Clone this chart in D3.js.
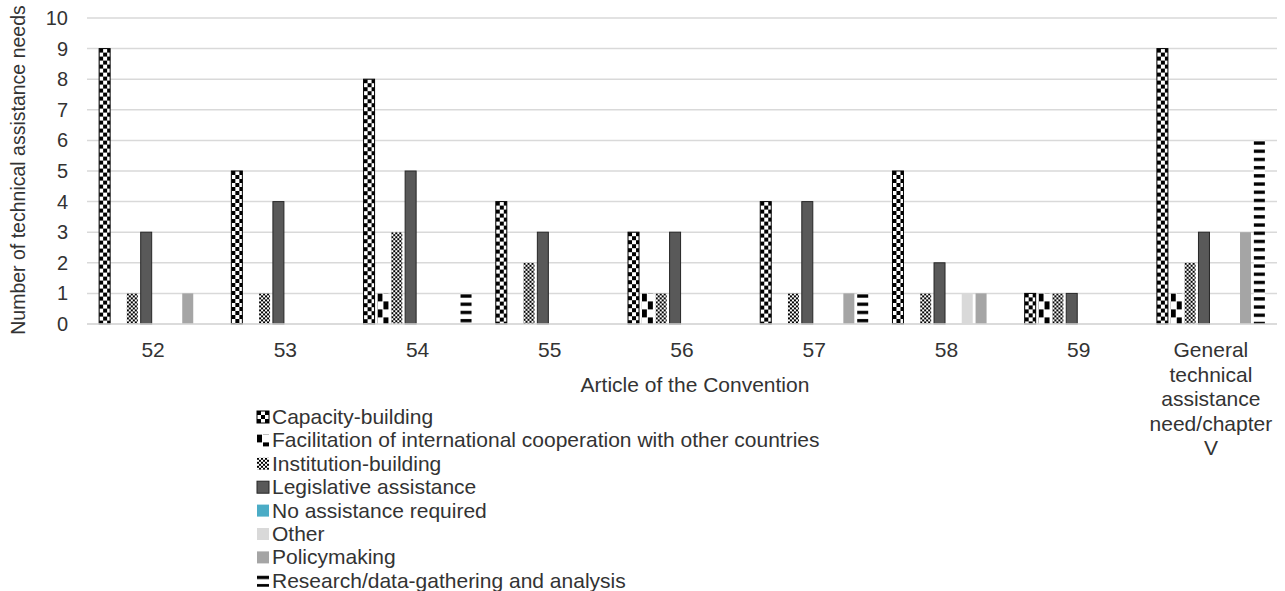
<!DOCTYPE html>
<html>
<head>
<meta charset="utf-8">
<script src="https://cdn.jsdelivr.net/npm/d3@7"></script>
<style>
  html, body { margin: 0; padding: 0; background: #fff; }
  svg { display: block; font-family: "Liberation Sans", Arial, sans-serif; }
</style>
</head>
<body>
<svg id="chart" width="1285" height="591"></svg>
<script>
// Articles of the Convention (chapter V) and the kinds of technical assistance requested
const categories = ["52", "53", "54", "55", "56", "57", "58", "59", "General technical assistance need/chapter V"];
const categoryLines = [["52"], ["53"], ["54"], ["55"], ["56"], ["57"], ["58"], ["59"],
  ["General", "technical", "assistance", "need/chapter", "V"]];

const seriesNames = [
  "Capacity-building",
  "Facilitation of international cooperation with other countries",
  "Institution-building",
  "Legislative assistance",
  "No assistance required",
  "Other",
  "Policymaking",
  "Research/data-gathering and analysis"
];

// counts per article, one array per series (same order as categories)
const capacityBuilding    = [9, 5, 8, 4, 3, 4, 5, 1, 9];
const facilitation        = [0, 0, 1, 0, 1, 0, 0, 1, 1];
const institutionBuilding = [1, 1, 3, 2, 1, 1, 1, 1, 2];
const legislative         = [3, 4, 5, 3, 3, 4, 2, 1, 3];
const noAssistance        = [0, 0, 0, 0, 0, 0, 0, 0, 0];
const other               = [0, 0, 0, 0, 0, 0, 1, 0, 0];
const policymaking        = [1, 0, 0, 0, 0, 1, 1, 0, 3];
const research            = [0, 0, 1, 0, 0, 1, 0, 0, 6];

const yTicks = [0, 1, 2, 3, 4, 5, 6, 7, 8, 9, 10];

const seriesValues = [capacityBuilding, facilitation, institutionBuilding, legislative,
  noAssistance, other, policymaking, research];

const svg = d3.select("#chart");
const textColor = "#333333";
const defs = svg.append("defs");

// ---- fill patterns (each anchored at the top-left corner of the shape using it) ----
const patternKinds = {
  check: { w: 8, h: 8, rects: [[0, 0, 4, 4], [4, 4, 4, 4]] },
  conf:  { w: 12, h: 16, rects: [[0, 0, 5, 8], [6, 8, 6, 8]] },
  small: { w: 4, h: 4, rects: [[0, 0, 2, 2], [2, 2, 2, 2]] },
  dash:  { w: 12, h: 8.2, rects: [[0, 1, 12, 3.3]] }
};
let patternCount = 0;
function makePattern(kind, x, y) {
  const k = patternKinds[kind];
  const id = "pat-" + kind + "-" + (patternCount++);
  const p = defs.append("pattern").attr("id", id)
    .attr("patternUnits", "userSpaceOnUse")
    .attr("x", x).attr("y", y).attr("width", k.w).attr("height", k.h);
  p.append("rect").attr("width", k.w).attr("height", k.h).attr("fill", "#fff");
  k.rects.forEach(r => p.append("rect")
    .attr("x", r[0]).attr("y", r[1]).attr("width", r[2]).attr("height", r[3]).attr("fill", "#000"));
  return `url(#${id})`;
}

const seriesStyle = [
  { pattern: "check", stroke: "#000", sw: 1 },
  { pattern: "conf",  stroke: "none", sw: 0 },
  { pattern: "small", stroke: "none", sw: 0 },
  { fill: "#595959",  stroke: "#262626", sw: 1 },
  { fill: "#4BACC6",  stroke: "none", sw: 0 },
  { fill: "#D9D9D9",  stroke: "none", sw: 0 },
  { fill: "#A5A5A5",  stroke: "none", sw: 0 },
  { pattern: "dash",  stroke: "none", sw: 0 }
];
function fillFor(si, x, y) {
  const s = seriesStyle[si];
  return s.pattern ? makePattern(s.pattern, x, y) : s.fill;
}

// ---- scales ----
const plot = { left: 87, right: 1277, top: 18, bottom: 324 };

const x0 = d3.scaleBand().domain(categories).range([plot.left, plot.right]).padding(0);
const x1 = d3.scaleBand().domain(d3.range(seriesNames.length))
  .range([0, x0.bandwidth()]).paddingInner(0.206).paddingOuter(0.876);
const y = d3.scaleLinear().domain([0, 10]).range([plot.bottom, plot.top]);

// ---- gridlines ----
svg.append("g").selectAll("line").data(yTicks).join("line")
  .attr("x1", plot.left).attr("x2", plot.right)
  .attr("y1", d => y(d)).attr("y2", d => y(d))
  .attr("stroke", "#D9D9D9").attr("stroke-width", 1.5);

// ---- y axis labels ----
const yAxis = d3.axisLeft(y).tickValues(yTicks).tickSize(0).tickPadding(0).tickFormat(d3.format("d"));
const gy = svg.append("g").attr("transform", "translate(68,0)").call(yAxis);
gy.select(".domain").remove();
gy.selectAll("text").attr("font-size", 20).attr("fill", textColor)
  .attr("font-family", "Liberation Sans, Arial, sans-serif");

svg.append("text")
  .attr("transform", "translate(25,170) rotate(-90)")
  .attr("text-anchor", "middle")
  .attr("font-size", 19.5).attr("fill", textColor)
  .text("Number of technical assistance needs");

// ---- bars ----
const groups = svg.append("g").selectAll("g").data(categories).join("g")
  .attr("transform", d => `translate(${x0(d)},0)`);

groups.selectAll("rect")
  .data((c, ci) => seriesValues.map((vals, si) => ({ si, v: vals[ci] })).filter(d => d.v > 0))
  .join("rect")
  .attr("x", d => x1(d.si))
  .attr("width", x1.bandwidth())
  .attr("y", d => y(d.v))
  .attr("height", d => y(0) - y(d.v))
  .attr("fill", d => fillFor(d.si, x1(d.si), y(d.v)))
  .attr("stroke", d => seriesStyle[d.si].stroke)
  .attr("stroke-width", d => seriesStyle[d.si].sw);

// ---- x axis ----
svg.append("line")
  .attr("x1", plot.left).attr("x2", plot.right)
  .attr("y1", plot.bottom).attr("y2", plot.bottom)
  .attr("stroke", "#D9D9D9").attr("stroke-width", 1.5);

const xl = svg.append("g").selectAll("text").data(categories).join("text")
  .attr("x", d => x0(d) + x0.bandwidth() / 2)
  .attr("y", 357)
  .attr("text-anchor", "middle")
  .attr("font-size", 21).attr("fill", textColor);
xl.selectAll("tspan").data((d, i) => categoryLines[i]).join("tspan")
  .attr("x", function () { return d3.select(this.parentNode).attr("x"); })
  .attr("dy", (d, i) => i === 0 ? 0 : 24.5)
  .text(d => d);

svg.append("text")
  .attr("x", 695).attr("y", 392)
  .attr("text-anchor", "middle")
  .attr("font-size", 21).attr("fill", textColor)
  .text("Article of the Convention");

// ---- legend ----
const legend = svg.append("g").selectAll("g").data(seriesNames).join("g")
  .attr("transform", (d, i) => `translate(257,${424 + i * 23.4})`);
legend.append("rect")
  .attr("x", 0).attr("y", -13).attr("width", 12).attr("height", 12)
  .attr("fill", (d, i) => fillFor(i, 0, -13))
  .attr("stroke", (d, i) => seriesStyle[i].stroke)
  .attr("stroke-width", 1);
legend.append("text")
  .attr("x", 15).attr("y", 0)
  .attr("font-size", 21).attr("fill", textColor)
  .text(d => d);
</script>
</body>
</html>
